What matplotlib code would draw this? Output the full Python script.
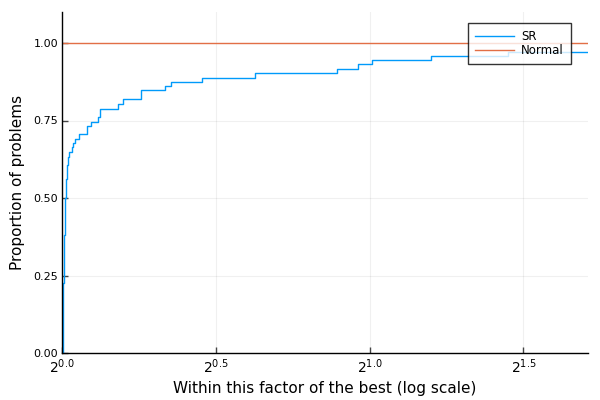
import matplotlib
matplotlib.use("Agg")
import matplotlib.pyplot as plt

# log2 of performance ratio -> fraction of problems solved
sr_x = [0.0, 0.0012, 0.0025, 0.0035, 0.0048, 0.0062, 0.0078, 0.0095, 0.0115,
        0.0142, 0.0175, 0.0196, 0.0229, 0.0305, 0.0359, 0.0424, 0.0554,
        0.0814, 0.0934, 0.115, 0.1226, 0.181, 0.196, 0.257, 0.333, 0.353,
        0.455, 0.626, 0.893, 0.963, 1.006, 1.198, 1.45]
sr_y = [0.0, 0.08, 0.16, 0.225, 0.3, 0.38, 0.45, 0.5, 0.56,
        0.606, 0.62, 0.633, 0.647, 0.663, 0.676, 0.69, 0.705,
        0.733, 0.746, 0.76, 0.788, 0.802, 0.818, 0.847, 0.860, 0.873,
        0.887, 0.902, 0.916, 0.931, 0.945, 0.959, 0.972]
normal_x = [0.0]
normal_y = [1.0]

x_max = 1.71
xticks = [0.0, 0.5, 1.0, 1.5]
xtick_labels = [r"$2^{0.0}$", r"$2^{0.5}$", r"$2^{1.0}$", r"$2^{1.5}$"]
yticks = [0.0, 0.25, 0.5, 0.75, 1.0]

fig = plt.figure(figsize=(6, 4), dpi=100)
ax = fig.add_axes([0.1038, 0.1175, 0.8762, 0.8525])

ax.step(sr_x + [x_max], sr_y + [sr_y[-1]], where="post", color="#009AFA",
        lw=1.0, label="SR")
ax.step(normal_x + [x_max], normal_y + [normal_y[-1]], where="post",
        color="#E26F46", lw=1.0, label="Normal")

ax.set_xlim(0, x_max)
ax.set_ylim(0, 1.1)
ax.set_xticks(xticks)
ax.set_xticklabels(xtick_labels, fontsize=10)
ax.set_yticks(yticks)
ax.set_yticklabels(["%.2f" % v for v in yticks], fontsize=8)
ax.tick_params(direction="in", length=4, width=1, color="#444444", pad=3)
ax.grid(True, color="black", alpha=0.06, lw=0.8)
for s in ["top", "right"]:
    ax.spines[s].set_visible(False)
for s in ["left", "bottom"]:
    ax.spines[s].set_linewidth(1.0)

ax.set_xlabel("Within this factor of the best (log scale)", fontsize=11, labelpad=4)
ax.set_ylabel("Proportion of problems", fontsize=11, labelpad=6)

leg = ax.legend(loc="upper right", bbox_to_anchor=(0.967, 0.968), fontsize=8.5,
                frameon=True, fancybox=False, edgecolor="black",
                handlelength=3.3, handletextpad=0.6, borderpad=0.6,
                labelspacing=0.1, borderaxespad=0)
leg.get_frame().set_linewidth(1.0)

fig.savefig("out.png", dpi=100)
